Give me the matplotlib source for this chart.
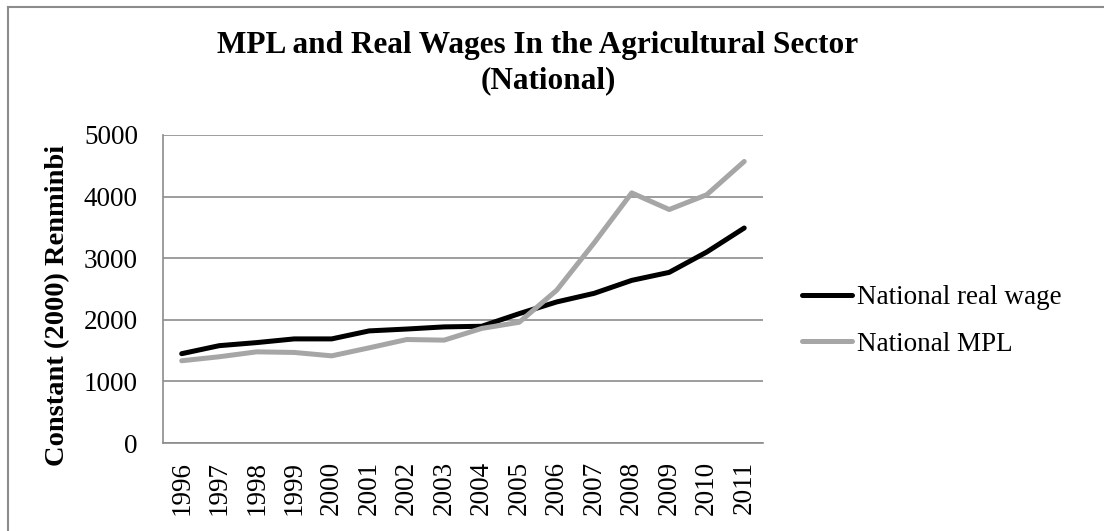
import matplotlib
matplotlib.use("Agg")
import matplotlib.pyplot as plt
from matplotlib.lines import Line2D

plt.rcParams['font.family'] = ['Liberation Serif', 'DejaVu Serif']

years = [str(y) for y in range(1996, 2012)]
real_wage = [1450, 1580, 1630, 1690, 1690, 1820, 1850, 1885, 1895, 2100, 2290, 2430, 2640, 2770, 3100, 3490]
mpl = [1335, 1400, 1480, 1470, 1415, 1545, 1680, 1670, 1860, 1960, 2480, 3250, 4060, 3790, 4030, 4570]
y_ticks = [0, 1000, 2000, 3000, 4000, 5000]

grid_col = '#8c8c8c'

fig = plt.figure(figsize=(11.04, 5.31), dpi=100)
ax = fig.add_axes([0.1476, 0.1657, 0.5435, 0.5801])

x = range(len(years))
ax.plot(x, real_wage, color='black', lw=3.6, solid_capstyle='round', solid_joinstyle='round',
        label='National real wage')
ax.plot(x, mpl, color='#a6a6a6', lw=3.6, solid_capstyle='round', solid_joinstyle='round',
        label='National MPL')

ax.set_xlim(-0.5, len(years) - 0.5)
ax.set_ylim(0, 5000)
ax.set_yticks(y_ticks)
ax.set_xticks(list(x))
ax.set_xticklabels(years, rotation=90)
ax.yaxis.grid(True, color=grid_col, lw=1.2)
ax.set_axisbelow(True)
ax.tick_params(axis='both', length=0, labelsize=19.5)
ax.tick_params(axis='y', pad=18)
ax.tick_params(axis='x', pad=13)

for s in ['top', 'right']:
    ax.spines[s].set_visible(False)
for s in ['left', 'bottom']:
    ax.spines[s].set_color(grid_col)
    ax.spines[s].set_linewidth(1.2)

fig.text(58 / 1104, 1 - 305 / 531, 'Constant (2000) Renminbi', rotation=90,
         fontsize=20.5, fontweight='bold', ha='center', va='center')

fig.text(538 / 1104, 1 - 45 / 531, 'MPL and Real Wages In the Agricultural Sector',
         fontsize=22.5, fontweight='bold', ha='center', va='center')
fig.text(548 / 1104, 1 - 81 / 531, '(National)',
         fontsize=22.5, fontweight='bold', ha='center', va='center')

ax.legend(loc='center left', bbox_to_anchor=(802 / 1104, 1 - 321 / 531),
          bbox_transform=fig.transFigure, frameon=False, fontsize=19.5,
          handlelength=1.85, handletextpad=0.18, labelspacing=0.8,
          borderpad=0, borderaxespad=0)

# outer chart frame (top and left edges only)
fig.add_artist(Line2D([7.5 / 1104, 1], [1 - 7 / 531, 1 - 7 / 531], color='#8c8c8c', lw=1.5))
fig.add_artist(Line2D([7.5 / 1104, 7.5 / 1104], [0, 1 - 7 / 531], color='#8c8c8c', lw=1.5))

fig.savefig('out.png', dpi=100)
